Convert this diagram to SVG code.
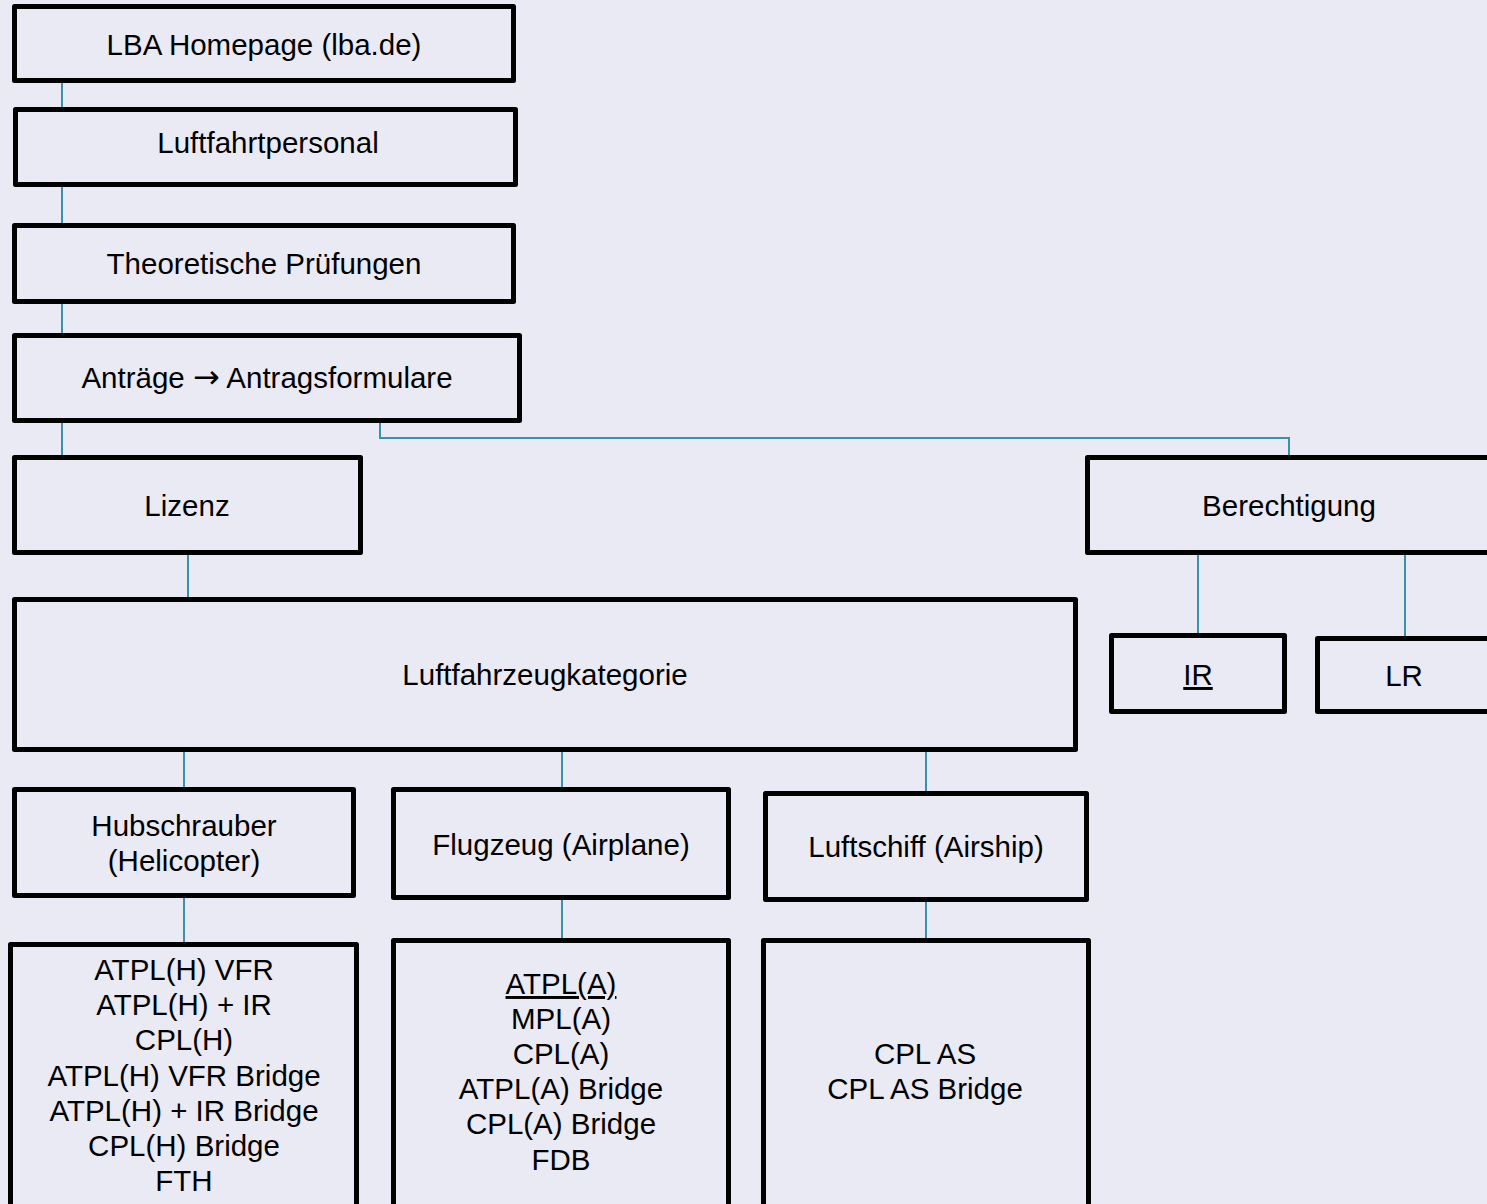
<svg xmlns="http://www.w3.org/2000/svg" width="1487" height="1204" viewBox="0 0 1487 1204">
<style>
.box{fill:#EAEAF4;stroke:#000;stroke-width:5;stroke-linejoin:round}
.t{font-family:"Liberation Sans",Arial,sans-serif;font-size:29.5px;fill:#000;text-anchor:middle}
.ar{font-family:"DejaVu Sans",sans-serif;font-size:32px}
.c{fill:none;stroke:#3A92A8;stroke-width:2}
</style>
<rect width="1487" height="1204" fill="#EAEAF4"/>
<g id="connectors">
<line class="c" x1="62" y1="83" x2="62" y2="107"/>
<line class="c" x1="62" y1="187" x2="62" y2="223"/>
<line class="c" x1="62" y1="304" x2="62" y2="333"/>
<line class="c" x1="62" y1="423" x2="62" y2="455"/>
<polyline class="c" points="380,423 380,438 1289,438 1289,455"/>
<line class="c" x1="188" y1="555" x2="188" y2="597"/>
<line class="c" x1="1198" y1="555" x2="1198" y2="635"/>
<line class="c" x1="1405" y1="555" x2="1405" y2="637"/>
<line class="c" x1="184" y1="752" x2="184" y2="787"/>
<line class="c" x1="562" y1="752" x2="562" y2="787"/>
<line class="c" x1="926" y1="752" x2="926" y2="791"/>
<line class="c" x1="184" y1="898" x2="184" y2="942"/>
<line class="c" x1="562" y1="900" x2="562" y2="938"/>
<line class="c" x1="926" y1="902" x2="926" y2="938"/>
</g>
<g id="n1"><rect class="box" x="14.5" y="6.5" width="499" height="74"/><text class="t" x="264" y="55">LBA Homepage (lba.de)</text></g>
<g id="n2"><rect class="box" x="15.5" y="109.5" width="500" height="75"/><text class="t" x="268" y="153">Luftfahrtpersonal</text></g>
<g id="n3"><rect class="box" x="14.5" y="225.5" width="499" height="76"/><text class="t" x="264" y="274">Theoretische Prüfungen</text></g>
<g id="n4"><rect class="box" x="14.5" y="335.5" width="505" height="85"/><text class="t" x="267" y="388">Anträge <tspan class="ar">→</tspan> Antragsformulare</text></g>
<g id="n5"><rect class="box" x="14.5" y="457.5" width="346" height="95"/><text class="t" x="187" y="516">Lizenz</text></g>
<g id="n6"><rect class="box" x="1087.5" y="457.5" width="405" height="95"/><text class="t" x="1289" y="516">Berechtigung</text></g>
<g id="n7"><rect class="box" x="14.5" y="599.5" width="1061" height="150"/><text class="t" x="545" y="685">Luftfahrzeugkategorie</text></g>
<g id="n8"><rect class="box" x="1111.5" y="635.5" width="173" height="76"/><text class="t" x="1198" y="685" text-decoration="underline">IR</text></g>
<g id="n9"><rect class="box" x="1317.5" y="638.5" width="180" height="73"/><text class="t" x="1404" y="686">LR</text></g>
<g id="n10"><rect class="box" x="14.5" y="789.5" width="339" height="106"/><text class="t" x="184" y="836">Hubschrauber</text><text class="t" x="184" y="871">(Helicopter)</text></g>
<g id="n11"><rect class="box" x="393.5" y="789.5" width="335" height="108"/><text class="t" x="561" y="855">Flugzeug (Airplane)</text></g>
<g id="n12"><rect class="box" x="765.5" y="793.5" width="321" height="106"/><text class="t" x="926" y="857">Luftschiff (Airship)</text></g>
<g id="n13"><rect class="box" x="10.5" y="944.5" width="346" height="270"/>
<text class="t" x="184" y="980">ATPL(H) VFR</text>
<text class="t" x="184" y="1015">ATPL(H) + IR</text>
<text class="t" x="184" y="1050">CPL(H)</text>
<text class="t" x="184" y="1086">ATPL(H) VFR Bridge</text>
<text class="t" x="184" y="1121">ATPL(H) + IR Bridge</text>
<text class="t" x="184" y="1156">CPL(H) Bridge</text>
<text class="t" x="184" y="1191">FTH</text>
</g>
<g id="n14"><rect class="box" x="393.5" y="940.5" width="335" height="275"/>
<text class="t" x="561" y="994" text-decoration="underline">ATPL(A)</text>
<text class="t" x="561" y="1029">MPL(A)</text>
<text class="t" x="561" y="1064">CPL(A)</text>
<text class="t" x="561" y="1099">ATPL(A) Bridge</text>
<text class="t" x="561" y="1134">CPL(A) Bridge</text>
<text class="t" x="561" y="1170">FDB</text>
</g>
<g id="n15"><rect class="box" x="763.5" y="940.5" width="325" height="275"/>
<text class="t" x="925" y="1064">CPL AS</text>
<text class="t" x="925" y="1099">CPL AS Bridge</text>
</g>
</svg>
